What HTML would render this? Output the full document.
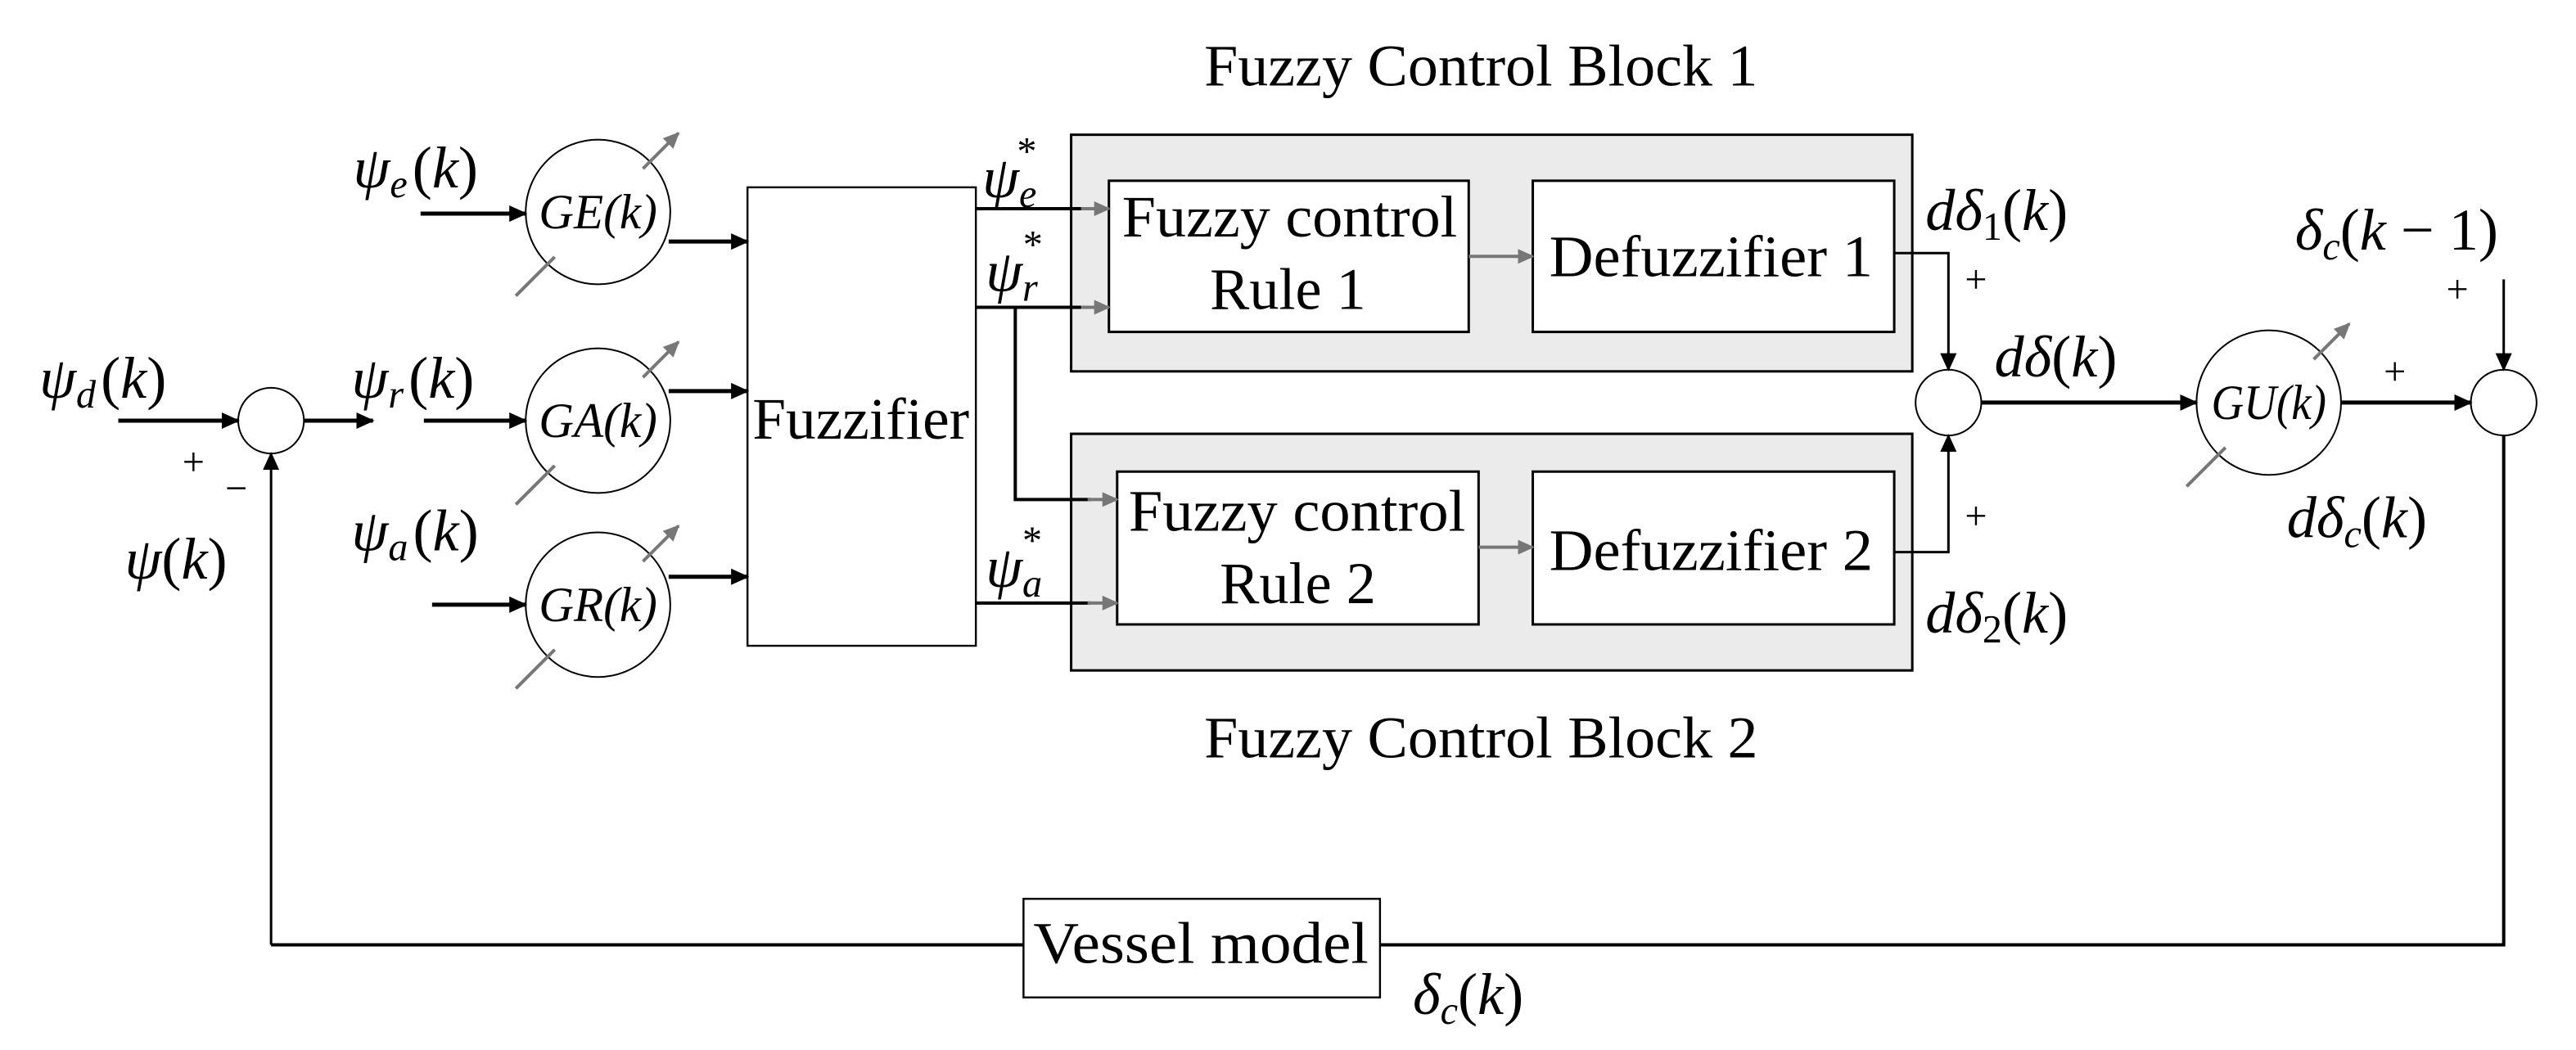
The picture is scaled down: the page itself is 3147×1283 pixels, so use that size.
<!DOCTYPE html>
<html><head><style>
html,body{margin:0;padding:0;background:#fff;}
svg{display:block;}
text{font-family:"Liberation Serif",serif;fill:#000;}
.m{font-style:italic;}
</style></head><body>
<svg width="3147" height="1283" viewBox="0 0 1568 639" preserveAspectRatio="none" xmlns="http://www.w3.org/2000/svg">
<defs>
<marker id="a" markerWidth="11" markerHeight="10" refX="10" refY="5" orient="auto" markerUnits="userSpaceOnUse"><path d="M0,0 L11,5 L0,10 z" fill="#000"/></marker>
<marker id="g" markerWidth="10" markerHeight="9" refX="9" refY="4.5" orient="auto" markerUnits="userSpaceOnUse"><path d="M0,0 L10,4.5 L0,9 z" fill="#777"/></marker>
</defs>
<rect x="652" y="82" width="512" height="144" fill="#ebebeb" stroke="#000" stroke-width="1.5"/>
<rect x="652" y="264" width="512" height="144" fill="#ebebeb" stroke="#000" stroke-width="1.5"/>
<rect x="675" y="110" width="219" height="92" fill="#fff" stroke="#000" stroke-width="1.5"/>
<rect x="933" y="110" width="220" height="92" fill="#fff" stroke="#000" stroke-width="1.5"/>
<rect x="680" y="287" width="220" height="93" fill="#fff" stroke="#000" stroke-width="1.5"/>
<rect x="933" y="287" width="220" height="93" fill="#fff" stroke="#000" stroke-width="1.5"/>
<rect x="455" y="114" width="139" height="279" fill="#fff" stroke="#000" stroke-width="1.2"/>
<rect x="623" y="547" width="217" height="60" fill="#fff" stroke="#000" stroke-width="1.2"/>
<g font-size="36">
<text x="733" y="52" textLength="337" lengthAdjust="spacingAndGlyphs">Fuzzy Control Block 1</text>
<text x="733" y="461" textLength="337" lengthAdjust="spacingAndGlyphs">Fuzzy Control Block 2</text>
<text x="683" y="144" textLength="204" lengthAdjust="spacingAndGlyphs">Fuzzy control</text>
<text x="784" y="188" text-anchor="middle">Rule 1</text>
<text x="687" y="323" textLength="205" lengthAdjust="spacingAndGlyphs">Fuzzy control</text>
<text x="790" y="367" text-anchor="middle">Rule 2</text>
<text x="943" y="168" textLength="197" lengthAdjust="spacingAndGlyphs">Defuzzifier 1</text>
<text x="943" y="347" textLength="197" lengthAdjust="spacingAndGlyphs">Defuzzifier 2</text>
<text x="458" y="267" textLength="132" lengthAdjust="spacingAndGlyphs">Fuzzifier</text>
<text x="629" y="586" textLength="204" lengthAdjust="spacingAndGlyphs">Vessel model</text>
</g>
<g fill="#fff" stroke="#000" stroke-width="1">
<circle cx="364" cy="129" r="44"/><circle cx="364" cy="256" r="44"/><circle cx="364" cy="368" r="44"/>
<circle cx="1381" cy="245" r="44"/>
<circle cx="165" cy="256" r="20"/><circle cx="1186" cy="245" r="20"/><circle cx="1524" cy="245" r="20"/>
</g>
<g stroke="#777" stroke-width="2" marker-end="url(#g)">
<line x1="314" y1="180" x2="413" y2="81"/>
<line x1="314" y1="307" x2="413" y2="208"/>
<line x1="314" y1="419" x2="413" y2="320"/>
<line x1="1331" y1="296" x2="1430" y2="197"/>
</g>
<g fill="#fff" stroke="none"><circle cx="364" cy="129" r="38"/><circle cx="364" cy="256" r="38"/><circle cx="364" cy="368" r="38"/><circle cx="1381" cy="245" r="38"/></g>
<g font-size="30" class="m">
<text x="328" y="139" class="m" textLength="72" lengthAdjust="spacingAndGlyphs">GE(k)</text>
<text x="328" y="266" class="m" textLength="72" lengthAdjust="spacingAndGlyphs">GA(k)</text>
<text x="328" y="378" class="m" textLength="72" lengthAdjust="spacingAndGlyphs">GR(k)</text>
<text x="1346" y="255" class="m" textLength="70" lengthAdjust="spacingAndGlyphs">GU(k)</text>
</g>
<g stroke="#000" stroke-width="2.5" fill="none" marker-end="url(#a)">
<line x1="256" y1="130" x2="320" y2="130"/>
<line x1="407" y1="147" x2="455" y2="147"/>
<line x1="258" y1="256" x2="320" y2="256"/>
<line x1="407" y1="238" x2="455" y2="238"/>
<line x1="263" y1="368" x2="320" y2="368"/>
<line x1="407" y1="351" x2="455" y2="351"/>
<line x1="72" y1="256" x2="145" y2="256"/>
<line x1="185" y1="256" x2="227" y2="256"/>
<line x1="1206" y1="245" x2="1337" y2="245"/>
<line x1="1425" y1="245" x2="1504" y2="245"/>
</g>
<g stroke="#000" stroke-width="1.5" fill="none" marker-end="url(#a)">
<polyline points="165,575 165,276"/>
<polyline points="1153,154 1186,154 1186,225"/>
<polyline points="1153,336 1186,336 1186,265"/>
<polyline points="1524,170 1524,225"/>
</g>
<g stroke="#000" stroke-width="2" fill="none">
<polyline points="1524,265 1524,575 840,575"/>
<polyline points="623,575 165,575"/>
</g>
<g stroke="#000" stroke-width="2" fill="none">
<line x1="594" y1="127" x2="660" y2="127"/>
<line x1="594" y1="187" x2="660" y2="187"/>
<polyline points="618,187 618,304 664,304"/>
<line x1="594" y1="367" x2="664" y2="367"/>
</g>
<g stroke="#777" stroke-width="2" marker-end="url(#g)">
<line x1="658" y1="127" x2="675" y2="127"/>
<line x1="658" y1="187" x2="675" y2="187"/>
<line x1="662" y1="304" x2="680" y2="304"/>
<line x1="662" y1="367" x2="680" y2="367"/>
<line x1="894" y1="156" x2="933" y2="156"/>
<line x1="900" y1="333" x2="933" y2="333"/>
</g>
<g font-size="36" class="m">
<text x="215" y="114">ψ<tspan font-size="24" dy="6">e</tspan><tspan dy="-6" dx="3" font-style="normal">(</tspan>k<tspan font-style="normal">)</tspan></text>
<text x="24" y="242">ψ<tspan font-size="24" dy="6">d</tspan><tspan dy="-6" dx="3" font-style="normal">(</tspan>k<tspan font-style="normal">)</tspan></text>
<text x="214" y="242">ψ<tspan font-size="24" dy="6">r</tspan><tspan dy="-6" dx="3" font-style="normal">(</tspan>k<tspan font-style="normal">)</tspan></text>
<text x="214" y="335">ψ<tspan font-size="24" dy="6">a</tspan><tspan dy="-6" dx="3" font-style="normal">(</tspan>k<tspan font-style="normal">)</tspan></text>
<text x="76" y="352">ψ<tspan font-style="normal">(</tspan>k<tspan font-style="normal">)</tspan></text>
<text x="598" y="120">ψ<tspan font-size="24" dy="6">e</tspan><tspan font-size="24" dx="-12" dy="-26" font-style="normal">*</tspan></text>
<text x="600" y="177">ψ<tspan font-size="24" dy="6">r</tspan><tspan font-size="24" dx="-9" dy="-26" font-style="normal">*</tspan></text>
<text x="600" y="357">ψ<tspan font-size="24" dy="6">a</tspan><tspan font-size="24" dx="-12" dy="-26" font-style="normal">*</tspan></text>
<text x="1172" y="140">dδ<tspan font-size="24" dy="6" font-style="normal">1</tspan><tspan dy="-6" font-style="normal">(</tspan>k<tspan font-style="normal">)</tspan></text>
<text x="1172" y="385">dδ<tspan font-size="24" dy="6" font-style="normal">2</tspan><tspan dy="-6" font-style="normal">(</tspan>k<tspan font-style="normal">)</tspan></text>
<text x="1214" y="229">dδ<tspan font-style="normal">(</tspan>k<tspan font-style="normal">)</tspan></text>
<text x="1397" y="152">δ<tspan font-size="24" dy="6">c</tspan><tspan dy="-6" font-style="normal">(</tspan>k<tspan font-style="normal"> − 1)</tspan></text>
<text x="1392" y="327">dδ<tspan font-size="24" dy="6">c</tspan><tspan dy="-6" font-style="normal">(</tspan>k<tspan font-style="normal">)</tspan></text>
<text x="860" y="617">δ<tspan font-size="24" dy="6">c</tspan><tspan dy="-6" font-style="normal">(</tspan>k<tspan font-style="normal">)</tspan></text>
</g>
<g font-size="24">
<text x="111" y="289">+</text>
<text x="137" y="305">−</text>
<text x="1196" y="178">+</text>
<text x="1196" y="322">+</text>
<text x="1451" y="234">+</text>
<text x="1489" y="184">+</text>
</g>
</svg>
</body></html>
